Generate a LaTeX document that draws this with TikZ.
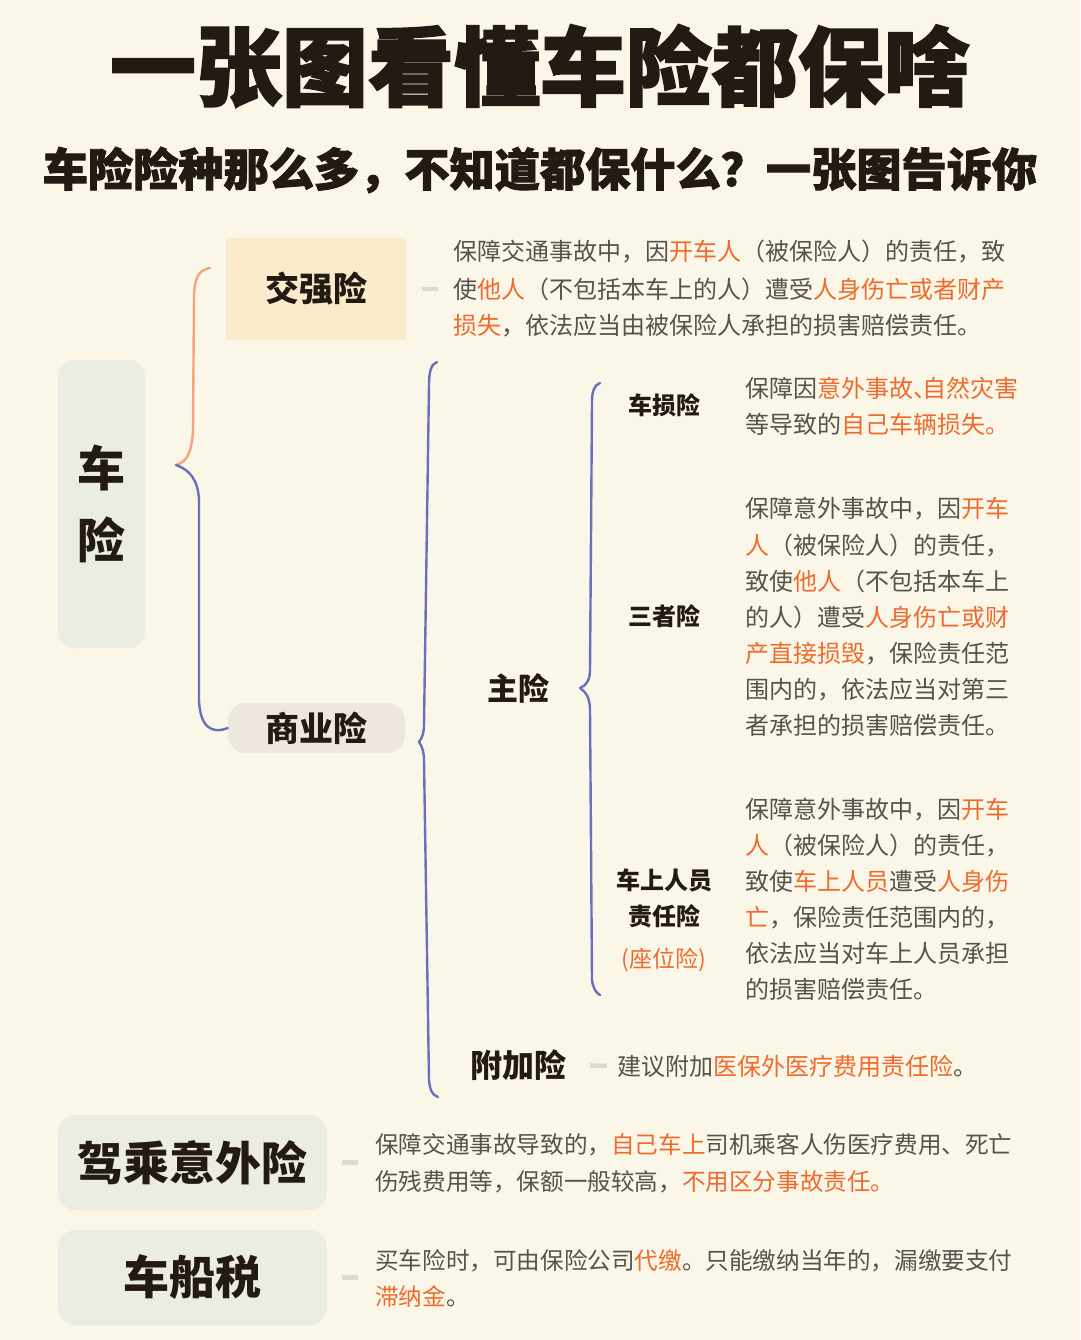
\documentclass[tikz,border=0pt]{standalone}
\usepackage{fontspec}
\setmainfont{Noto Sans CJK SC}
\newfontfamily\heavy[BoldFeatures={FakeBold=2}]{Noto Sans CJK SC}
\definecolor{bg}{HTML}{FAF7E8}
\definecolor{ink}{HTML}{231A14}
\definecolor{txt}{HTML}{57524C}
\definecolor{hl}{HTML}{F06A2C}
\definecolor{boxgreen}{HTML}{EBEDE2}
\definecolor{peach}{HTML}{FCEBCB}
\definecolor{pinkgray}{HTML}{EDE7DF}
\definecolor{orangeline}{HTML}{F2A679}
\definecolor{blueline}{HTML}{6A70BC}
\definecolor{dashgray}{HTML}{DDD9CB}
\newcommand\hl[1]{\textcolor{hl}{#1}}
\begin{document}
\begin{tikzpicture}[x=1pt,y=-1pt,
  title/.style={inner sep=0, text=ink, font={\heavy\bfseries\fontsize{86}{86}\selectfont}},
  subt/.style={inner sep=0, text=ink, font={\heavy\bfseries\fontsize{45.2}{45.2}\selectfont}},
  lbl/.style={inner sep=0, text=ink, font={\bfseries\fontsize{#1}{#1}\selectfont}},
  lbl/.default=34,
  boxa/.style={inner sep=0, text=ink, rounded corners=16pt},
  dl/.style={anchor=west, inner sep=0, text height=21pt, text depth=3pt, text=txt, font={\fontsize{24}{24}\selectfont}},
  dls/.style={dl, font={\fontsize{23.6}{23.6}\selectfont}},
  dashc/.style={draw=dashgray, line width=4.5pt},
  brace/.style={line width=2.4pt, line cap=round, line join=round}
]
\fill[bg] (0,0) rectangle (1080,1340);

% titles
\node[title] (t) at (540,66) {一张图看懂车险都保啥};
\node[subt] (s) at (540,170) {车险险种那么多，不知道都保什么？一张图告诉你};

% root box
\node[boxa, fill=boxgreen, minimum width=87, minimum height=288, align=center,
      font={\bfseries\fontsize{48}{72}\selectfont}] (root) at (101.5,504) {车\\险};

% level 1
\node[lbl=34, fill=peach, minimum width=180, minimum height=102] (jq) at (316,289) {交强险};
\node[lbl=34, fill=pinkgray, rounded corners=18pt, minimum width=177, minimum height=50] (sy) at (316.5,728) {商业险};

% root braces
\draw[brace, orangeline] (210,268) .. controls (198,270) and (195,278) .. (194,295)
   -- (193,430) .. controls (192,450) and (188,462) .. (176,465);
\draw[brace, blueline] (176,465) .. controls (190,470) and (198,480) .. (199,500)
   -- (199,700) .. controls (200,725) and (210,735) .. (sy.west);

% 交强险 description
\node[dl] (jq1) at (453,252) {保障交通事故中，因\hl{开车人}（被保险人）的责任，致};
\node[dl] (jq2) at (453,289) {使\hl{他人}（不包括本车上的人）遭受\hl{人身伤亡或者财产}};
\node[dl] (jq3) at (453,325) {\hl{损失}，依法应当由被保险人承担的损害赔偿责任。};
\draw[dashc, shorten <=16pt, shorten >=15pt] (jq.east) -- (jq2.west);

% 商业险 brace
\draw[brace, blueline] (437,362) .. controls (431,364) and (429,372) .. (429,385)
   -- (424,725) .. controls (424,733) and (422,738) .. (419,742)
   .. controls (422,746) and (424,752) .. (424,760)
   -- (429,1080) .. controls (430,1090) and (432,1095) .. (438,1097);

\node[lbl=31] (zx) at (518,688) {主险};
\node[lbl=32] (fj) at (518,1065) {附加险};

% 主险 brace
\draw[brace, blueline] (600,383) .. controls (594,385) and (592,392) .. (592,402)
   -- (590,670) .. controls (590,680) and (586,686) .. (580,688)
   .. controls (586,692) and (590,698) .. (590,710)
   -- (592,980) .. controls (593,988) and (596,993) .. (600,995);

\node[lbl=24] (cs) at (664,405) {车损险};
\node[lbl=24] (sz) at (664,616) {三者险};
\node[lbl=24, align=center, font={\bfseries\fontsize{24}{36}\selectfont}] (cr) at (664,898) {车上人员\\责任险};
\node[inner sep=0, text=hl, font={\fontsize{23}{23}\selectfont}] (zw) at (664,960) {(座位险)};

% 车损险 description
\node[dl] (cs1) at (745,388) {保障因\hl{意外事故、\kern-0.6em 自然灾害}};
\node[dl] (cs2) at (745,424) {等导致的\hl{自己车辆损失。}};

% 三者险 description
\node[dl] (sz1) at (745,508) {保障意外事故中，因\hl{开车}};
\node[dl] (sz2) at (745,545) {\hl{人}（被保险人）的责任，};
\node[dl] (sz3) at (745,581) {致使\hl{他人}（不包括本车上};
\node[dl] (sz4) at (745,617) {的人）遭受\hl{人身伤亡或财}};
\node[dl] (sz5) at (745,653) {\hl{产直接损毁}，保险责任范};
\node[dl] (sz6) at (745,689) {围内的，依法应当对第三};
\node[dl] (sz7) at (745,725) {者承担的损害赔偿责任。};

% 车上人员责任险 description
\node[dl] (cr1) at (745,809) {保障意外事故中，因\hl{开车}};
\node[dl] (cr2) at (745,845) {\hl{人}（被保险人）的责任，};
\node[dl] (cr3) at (745,881) {致使\hl{车上人员}遭受\hl{人身伤}};
\node[dl] (cr4) at (745,917) {\hl{亡}，保险责任范围内的，};
\node[dl] (cr5) at (745,953) {依法应当对车上人员承担};
\node[dl] (cr6) at (745,989) {的损害赔偿责任。};

% 附加险 description
\node[dl] (fj1) at (617,1066) {建议附加\hl{医保外医疗费用责任险}。};
\draw[dashc, shorten <=24pt, shorten >=10pt] (fj.east) -- (fj1.west);

% 驾乘意外险
\node[boxa, fill=boxgreen, rounded corners=18pt, minimum width=269, minimum height=95,
      font={\bfseries\fontsize{46}{46}\selectfont}] (jc) at (192.5,1162.5) {驾乘意外险};
\node[dls] (jc1) at (375,1144) {保障交通事故导致的，\hl{自己车上}司机乘客人伤医疗费用、死亡};
\node[dls] (jc2) at (375,1181) {伤残费用等，保额一般较高，\hl{不用区分事故责任。}};
\draw[dashc, shorten <=15pt, shorten >=17pt] (jc.east) -- (jc.east -| jc1.west);

% 车船税
\node[boxa, fill=boxgreen, rounded corners=18pt, minimum width=269, minimum height=95,
      font={\bfseries\fontsize{46}{46}\selectfont}] (cc) at (192.5,1277.5) {车船税};
\node[dls] (cc1) at (375,1260) {买车险时，可由保险公司\hl{代缴}。只能缴纳当年的，漏缴要支付};
\node[dls] (cc2) at (375,1296) {\hl{滞纳金}。};
\draw[dashc, shorten <=15pt, shorten >=17pt] (cc.east) -- (cc.east -| cc1.west);
\end{tikzpicture}
\end{document}
